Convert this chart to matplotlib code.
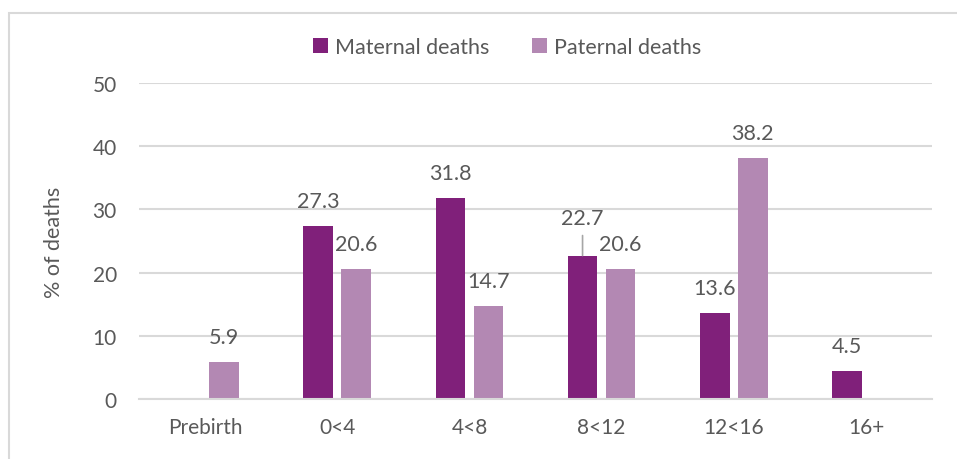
import matplotlib.pyplot as plt
import numpy as np
from matplotlib.patches import Rectangle

# Age of child at parent's death
categories = ['Prebirth', '0<4', '4<8', '8<12', '12<16', '16+']
maternal = [None, 27.3, 31.8, 22.7, 13.6, 4.5]
paternal = [5.9, 20.6, 14.7, 20.6, 38.2, None]

col_mat = '#80207A'
col_pat = '#B388B3'
txt = '#595959'
grid = '#D9D9D9'

plt.rcParams['font.family'] = ['Lato', 'DejaVu Sans']

fig = plt.figure(figsize=(9.57, 4.6), dpi=100)
ax = fig.add_axes([139/957, 1-400/460, (932-139)/957, (400-84)/460])

# outer chart border
fig.patches.append(Rectangle((9/957, -0.1), 1.2, 1.1-14/460, transform=fig.transFigure,
                             fill=False, edgecolor=grid, lw=1.5))

x = np.arange(len(categories))
w = 0.225
off = 0.144

mat_x = [xi - off for xi, v in zip(x, maternal) if v is not None]
mat_v = [v for v in maternal if v is not None]
pat_x = [xi + off for xi, v in zip(x, paternal) if v is not None]
pat_v = [v for v in paternal if v is not None]

ax.bar(mat_x, mat_v, w, color=col_mat, label='Maternal deaths', zorder=3)
ax.bar(pat_x, pat_v, w, color=col_pat, label='Paternal deaths', zorder=3)

fs = 15.5
for xs, vs in ((mat_x, mat_v), (pat_x, pat_v)):
    for xi, v in zip(xs, vs):
        if v == 22.7 and vs is mat_v:
            ax.annotate(f'{v:.1f}', (xi, v), xytext=(0, 38), textcoords='offset pixels',
                        ha='center', va='center', fontsize=fs, color=txt)
            ax.annotate('', (xi, v), xytext=(0, 20), textcoords='offset pixels',
                        arrowprops=dict(arrowstyle='-', color='#A6A6A6', lw=1.2,
                                        shrinkA=0, shrinkB=0))
        else:
            ax.annotate(f'{v:.1f}', (xi, v), xytext=(0, 25), textcoords='offset pixels',
                        ha='center', va='center', fontsize=fs, color=txt)

ax.set_xlim(-0.5, 5.5)
ax.set_ylim(0, 50)
ax.set_yticks(range(0, 51, 10))
ax.set_xticks(x)
ax.set_xticklabels(categories)
ax.tick_params(axis='both', length=0, labelsize=15, colors=txt)
ax.tick_params(axis='x', pad=13)
ax.tick_params(axis='y', pad=16)
ax.grid(axis='y', color=grid, lw=1.5, zorder=0)
for s in ['top', 'right', 'left']:
    ax.spines[s].set_visible(False)
ax.spines['bottom'].set_color(grid)
ax.spines['bottom'].set_linewidth(1.5)
ax.spines['bottom'].set_zorder(4)

ax.set_ylabel('% of deaths', fontsize=fs, color=txt)
ax.yaxis.set_label_coords(-0.094, 0.5)

fig.legend(loc='center', bbox_to_anchor=(507/957, 1-48/460), ncol=2, frameon=False,
           fontsize=fs, labelcolor=txt, handlelength=0.7, handleheight=0.7,
           handletextpad=0.3, columnspacing=2.0)

fig.savefig('out.png', dpi=100)
